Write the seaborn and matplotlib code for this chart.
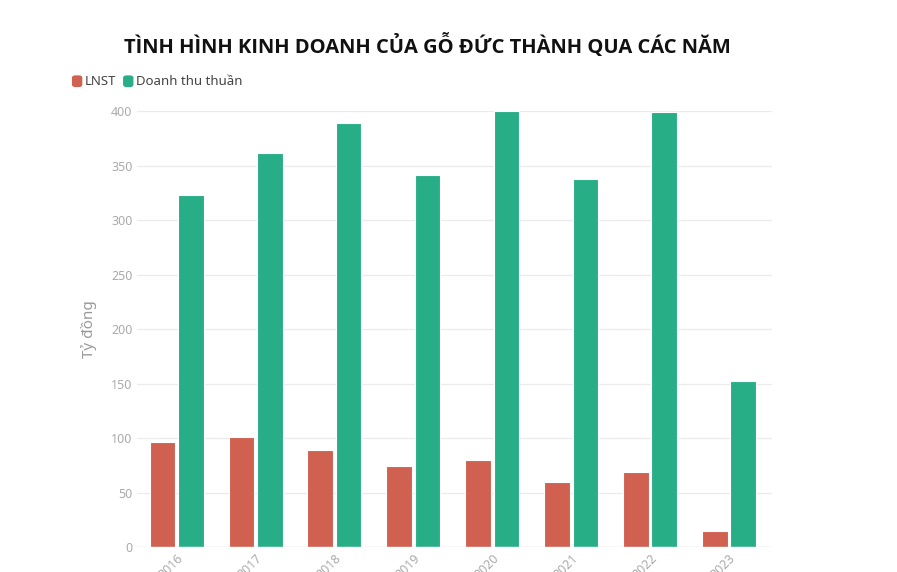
import matplotlib
matplotlib.use("Agg")
import matplotlib.pyplot as plt
import pandas as pd
import seaborn as sns

# Data
years = ["2016", "2017", "2018", "2019", "2020", "2021", "2022", "2023"]
lnst = [96, 101, 89, 74, 80, 60, 69, 15]
doanh_thu = [323, 362, 389, 341, 400, 338, 399, 152]
series_names = ["LNST", "Doanh thu thuần"]
colors = ["#D06050", "#27AE87"]

df = pd.DataFrame({
    "Năm": years * 2,
    "Giá trị": lnst + doanh_thu,
    "Chỉ tiêu": [series_names[0]] * len(years) + [series_names[1]] * len(years),
})

sns.set_style("white")
plt.rcParams['font.family'] = ['Noto Sans', 'DejaVu Sans']

fig = plt.figure(figsize=(8.97, 5.72), dpi=100)
ax = fig.add_axes([0.153, 0.0437, 0.708, 0.762])

sns.barplot(data=df, x="Năm", y="Giá trị", hue="Chỉ tiêu", palette=colors,
            saturation=1, width=0.72, gap=0.1, ax=ax, edgecolor="white",
            linewidth=0.8, legend=False)

ax.set_xlim(-0.5, 7.55)
ax.set_ylim(0, 400)
ax.set_yticks(range(0, 401, 50))
ax.grid(axis="y", color="#ebebeb", linewidth=0.9)
ax.set_axisbelow(True)
for s in ax.spines.values():
    s.set_visible(False)
ax.axhline(0, color="#e6e6e6", linewidth=1)
ax.tick_params(axis="both", colors="#aaaaaa", labelsize=9, length=0)
plt.setp(ax.get_xticklabels(), rotation=45, ha="right", rotation_mode="anchor")
ax.set_xlabel("")
ax.set_ylabel("Tỷ đồng", color="#999999", fontsize=11, labelpad=10)

fig.text(0.477, 0.92, "TÌNH HÌNH KINH DOANH CỦA GỖ ĐỨC THÀNH QUA CÁC NĂM",
         ha="center", va="center", fontsize=14.5, fontweight="bold",
         color="#111111", family=["Open Sans", "DejaVu Sans"])

# Legend
from matplotlib.patches import FancyBboxPatch
lx = [0.081, 0.138]
for i, name in enumerate(series_names):
    fig.patches.append(FancyBboxPatch((lx[i], 0.849), 0.010, 0.018,
                                      boxstyle="round,pad=0,rounding_size=0.003",
                                      transform=fig.transFigure, color=colors[i]))
    fig.text(lx[i] + 0.014, 0.858, name, ha="left", va="center",
             fontsize=9.5, color="#444444")

fig.savefig("out.png", dpi=100)
